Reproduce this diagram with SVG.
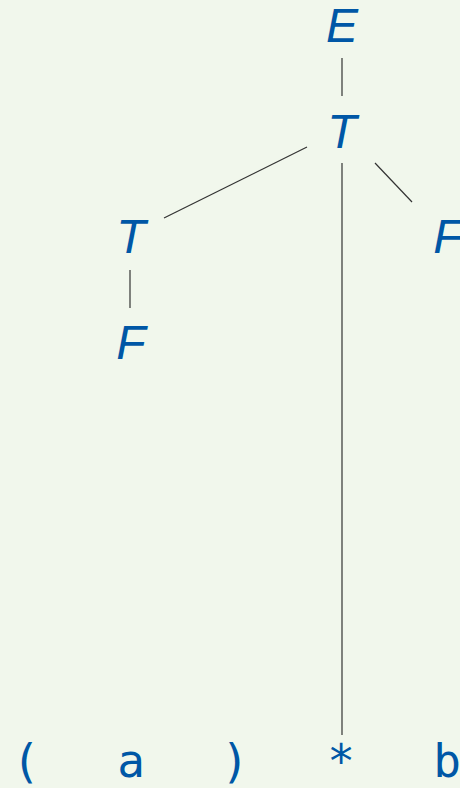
<svg xmlns="http://www.w3.org/2000/svg" width="460" height="788" viewBox="0 0 460 788">
<style>
.nt{font-family:"Liberation Sans",Arial,sans-serif;font-style:italic;font-size:48px;fill:#0057a6;text-anchor:middle}
.tk{font-family:"DejaVu Sans Mono","Liberation Mono",monospace;font-size:46px;fill:#0057a6;text-anchor:middle}
.e{stroke:#333;stroke-width:1.2;fill:none}
</style>
<rect width="460" height="788" fill="#f1f7ec"/>
<g id="connectors">
<line class="e" x1="342" y1="58" x2="342" y2="96"/>
<line class="e" x1="342" y1="163" x2="342" y2="735"/>
<line class="e" x1="307" y1="147" x2="164" y2="218"/>
<line class="e" x1="375" y1="163" x2="412" y2="202"/>
<line class="e" x1="130" y1="270" x2="130" y2="308"/>
</g>
<g id="E"><text class="nt" x="342" y="42">E</text></g>
<g id="T1"><text class="nt" x="342" y="148">T</text></g>
<g id="T2"><text class="nt" x="131" y="253">T</text></g>
<g id="F1"><text class="nt" x="448" y="253">F</text></g>
<g id="F2"><text class="nt" x="131" y="359">F</text></g>
<g id="tokens">
<text class="tk" x="26" y="777">(</text>
<text class="tk" x="131" y="777">a</text>
<text class="tk" x="235" y="777">)</text>
<text class="tk" x="341" y="777">*</text>
<text class="tk" x="447" y="777">b</text>
</g>
</svg>
